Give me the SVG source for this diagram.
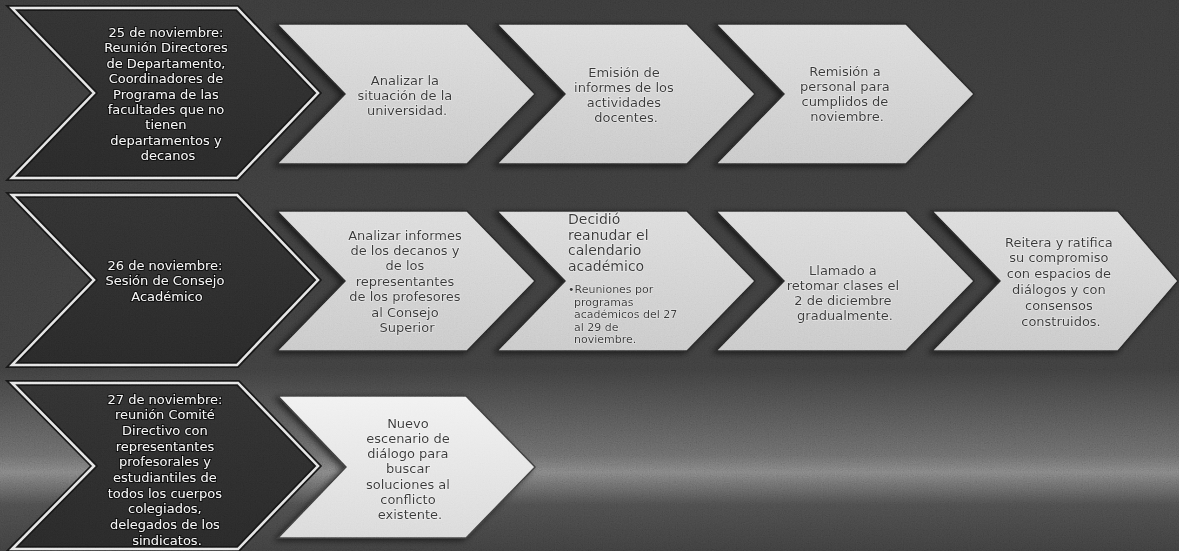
<svg xmlns="http://www.w3.org/2000/svg" width="1179" height="551" viewBox="0 0 1179 551">
<defs>
  <linearGradient id="bg" gradientUnits="userSpaceOnUse" x1="0" y1="0" x2="0" y2="551">
    <stop offset="0" stop-color="#363636"/>
    <stop offset="0.67" stop-color="#3a3a3a"/>
    <stop offset="0.745" stop-color="#4e4e4e"/>
    <stop offset="0.826" stop-color="#646464"/>
    <stop offset="0.857" stop-color="#7a7a7a"/>
    <stop offset="0.88" stop-color="#666666"/>
    <stop offset="0.916" stop-color="#474747"/>
    <stop offset="1" stop-color="#3a3a3a"/>
  </linearGradient>
  <linearGradient id="lightFill" x1="0" y1="0" x2="0" y2="1">
    <stop offset="0" stop-color="#d9d9d9"/>
    <stop offset="1" stop-color="#c4c4c4"/>
  </linearGradient>
  <linearGradient id="lightFill3" x1="0" y1="0" x2="0" y2="1">
    <stop offset="0" stop-color="#f0f0f0"/>
    <stop offset="1" stop-color="#d6d6d6"/>
  </linearGradient>
  <linearGradient id="darkFill" x1="0" y1="0" x2="0" y2="1">
    <stop offset="0" stop-color="#2e2e2e"/>
    <stop offset="1" stop-color="#262626"/>
  </linearGradient>
  <filter id="shadow" x="-10%" y="-10%" width="120%" height="120%">
    <feDropShadow dx="-3" dy="2" stdDeviation="3" flood-color="#000" flood-opacity="0.6"/>
  </filter>
  <filter id="noise" x="0" y="0" width="100%" height="100%">
    <feTurbulence type="fractalNoise" baseFrequency="0.85" numOctaves="2" seed="3"/>
    <feColorMatrix type="matrix" values="0.33 0.33 0.33 0 0  0.33 0.33 0.33 0 0  0.33 0.33 0.33 0 0  0 0 0 0 1"/>
  </filter>
</defs>
<style>
  .dark { fill: url(#darkFill); stroke: #151515; stroke-width: 6; stroke-linejoin: miter; }
  .darkline { fill: none; stroke: #e2e2e2; stroke-width: 2.5; stroke-linejoin: miter; }
  .light { fill: url(#lightFill); stroke: #262626; stroke-width: 1.5; filter: url(#shadow); }
  .light3 { fill: url(#lightFill3); stroke: #3a3a3a; stroke-width: 1.5; filter: url(#shadow); }
  text { font-family: "DejaVu Sans", "Liberation Sans", sans-serif; }
  .tw { fill: #f4f4f4; font-size: 13px; text-anchor: middle; stroke: #0e0e0e; stroke-width: 2; paint-order: stroke; }
  .tb { fill: #333333; font-size: 13px; text-anchor: middle; stroke: rgba(255,255,255,0.45); stroke-width: 1.5; paint-order: stroke; }
  .tbl { fill: #333333; font-size: 14px; stroke: rgba(255,255,255,0.45); stroke-width: 1.5; paint-order: stroke; }
  .tbs { fill: #333333; font-size: 11px; stroke: rgba(255,255,255,0.45); stroke-width: 1.2; paint-order: stroke; }
  .grain { mix-blend-mode: overlay; opacity: 0.3; }
</style>
<rect x="0" y="0" width="1179" height="551" fill="url(#bg)"/>

<g id="connectors"></g>

<!-- Row 1 -->
<g id="n-25nov">
  <polygon class="dark" points="12,8 237,8 318,93 237,178 12,178 94,93"/>
  <polygon class="darkline" points="12,8 237,8 318,93 237,178 12,178 94,93"/>
  <text class="tw">
    <tspan x="168" y="37">25 de noviembre:</tspan>
    <tspan x="168" y="52.4">Reunión Directores</tspan>
    <tspan x="168" y="67.8">de Departamento,</tspan>
    <tspan x="168" y="83.2">Coordinadores de</tspan>
    <tspan x="168" y="98.6">Programa de las</tspan>
    <tspan x="168" y="114">facultades que no</tspan>
    <tspan x="168" y="129.4">tienen</tspan>
    <tspan x="168" y="144.8">departamentos y</tspan>
    <tspan x="168" y="160.2">decanos</tspan>
  </text>
</g>
<g id="n-analizar">
  <polygon class="light" points="277,24 467,24 535,94 467,164 277,164 345,94"/>
  <text class="tb">
    <tspan x="407" y="84.5">Analizar la</tspan>
    <tspan x="407" y="99.8">situación de la</tspan>
    <tspan x="407" y="115.1">universidad.</tspan>
  </text>
</g>
<g id="n-emision">
  <polygon class="light" points="497,24 687,24 755,94 687,164 497,164 565,94"/>
  <text class="tb">
    <tspan x="626" y="76.5">Emisión de</tspan>
    <tspan x="626" y="91.8">informes de los</tspan>
    <tspan x="626" y="107.1">actividades</tspan>
    <tspan x="626" y="122.4">docentes.</tspan>
  </text>
</g>
<g id="n-remision">
  <polygon class="light" points="716,24 906,24 974,94 906,164 716,164 784,94"/>
  <text class="tb">
    <tspan x="847" y="75.5">Remisión a</tspan>
    <tspan x="847" y="90.8">personal para</tspan>
    <tspan x="847" y="106.1">cumplidos de</tspan>
    <tspan x="847" y="121.4">noviembre.</tspan>
  </text>
</g>

<!-- Row 2 -->
<g id="n-26nov">
  <polygon class="dark" points="12,195 237,195 318,280 237,365 12,365 94,280"/>
  <polygon class="darkline" points="12,195 237,195 318,280 237,365 12,365 94,280"/>
  <text class="tw">
    <tspan x="167" y="269.5">26 de noviembre:</tspan>
    <tspan x="167" y="285.3">Sesión de Consejo</tspan>
    <tspan x="167" y="301.1">Académico</tspan>
  </text>
</g>
<g id="n-informes">
  <polygon class="light" points="277,211 467,211 535,281 467,351 277,351 345,281"/>
  <text class="tb">
    <tspan x="407" y="239.5">Analizar informes</tspan>
    <tspan x="407" y="254.9">de los decanos y</tspan>
    <tspan x="407" y="270.3">de los</tspan>
    <tspan x="407" y="285.7">representantes</tspan>
    <tspan x="407" y="301.1">de los profesores</tspan>
    <tspan x="407" y="316.5">al Consejo</tspan>
    <tspan x="407" y="331.9">Superior</tspan>
  </text>
</g>
<g id="n-decidio">
  <polygon class="light" points="497,211 687,211 755,281 687,351 497,351 565,281"/>
  <text class="tbl">
    <tspan x="568" y="224">Decidió</tspan>
    <tspan x="568" y="239.5">reanudar el</tspan>
    <tspan x="568" y="255">calendario</tspan>
    <tspan x="568" y="270.5">académico</tspan>
  </text>
  <text class="tbs">
    <tspan x="568" y="293">•Reuniones por</tspan>
    <tspan x="574" y="305.5">programas</tspan>
    <tspan x="574" y="318">académicos del 27</tspan>
    <tspan x="574" y="330.5">al 29 de</tspan>
    <tspan x="574" y="343">noviembre.</tspan>
  </text>
</g>
<g id="n-llamado">
  <polygon class="light" points="716,211 906,211 974,281 906,351 716,351 784,281"/>
  <text class="tb">
    <tspan x="845" y="274.5">Llamado a</tspan>
    <tspan x="845" y="289.8">retomar clases el</tspan>
    <tspan x="845" y="305.1">2 de diciembre</tspan>
    <tspan x="845" y="320.4">gradualmente.</tspan>
  </text>
</g>
<g id="n-reitera">
  <polygon class="light" points="932,211 1118,211 1178,281 1118,351 932,351 1000,281"/>
  <text class="tb">
    <tspan x="1061" y="246.5">Reitera y ratifica</tspan>
    <tspan x="1061" y="262.3">su compromiso</tspan>
    <tspan x="1061" y="278.1">con espacios de</tspan>
    <tspan x="1061" y="293.9">diálogos y con</tspan>
    <tspan x="1061" y="309.7">consensos</tspan>
    <tspan x="1061" y="325.5">construidos.</tspan>
  </text>
</g>

<!-- Row 3 -->
<g id="n-27nov">
  <polygon class="dark" points="12,383 238,383 318,466 238,549 12,549 94,466"/>
  <polygon class="darkline" points="12,383 238,383 318,466 238,549 12,549 94,466"/>
  <text class="tw">
    <tspan x="167" y="403.5">27 de noviembre:</tspan>
    <tspan x="167" y="419.2">reunión Comité</tspan>
    <tspan x="167" y="434.9">Directivo con</tspan>
    <tspan x="167" y="450.6">representantes</tspan>
    <tspan x="167" y="466.3">profesorales y</tspan>
    <tspan x="167" y="482">estudiantiles de</tspan>
    <tspan x="167" y="497.7">todos los cuerpos</tspan>
    <tspan x="167" y="513.4">colegiados,</tspan>
    <tspan x="167" y="529.1">delegados de los</tspan>
    <tspan x="167" y="544.8">sindicatos.</tspan>
  </text>
</g>
<g id="n-nuevo">
  <polygon class="light3" points="278,396 466,396 535,467 466,538 278,538 346,467"/>
  <text class="tb">
    <tspan x="410" y="427.5">Nuevo</tspan>
    <tspan x="410" y="442.8">escenario de</tspan>
    <tspan x="410" y="458.1">diálogo para</tspan>
    <tspan x="410" y="473.4">buscar</tspan>
    <tspan x="410" y="488.7">soluciones al</tspan>
    <tspan x="410" y="504">conflicto</tspan>
    <tspan x="410" y="519.3">existente.</tspan>
  </text>
</g>

<rect class="grain" x="0" y="0" width="1179" height="551" filter="url(#noise)" pointer-events="none"/>
</svg>
